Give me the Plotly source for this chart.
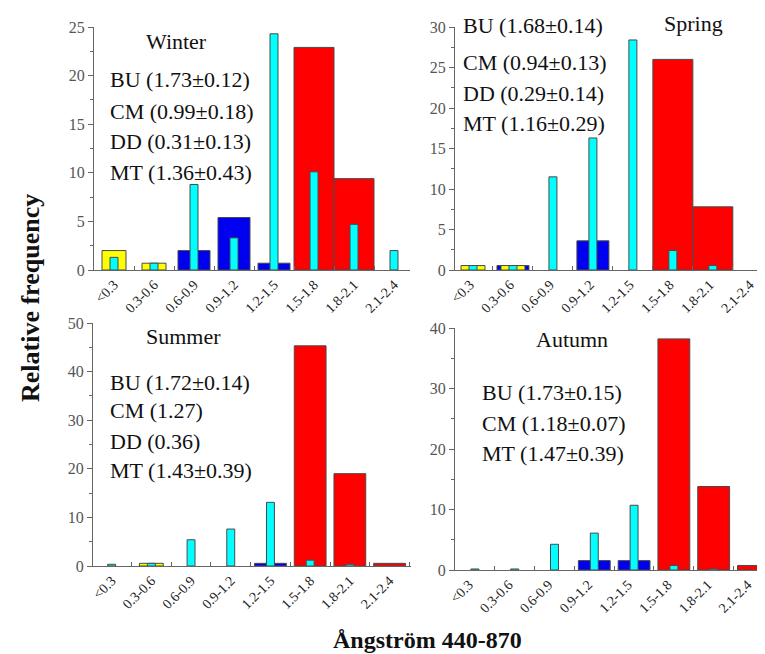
import plotly.graph_objects as go

# page body has an 8px margin: figure is drawn 8px in from the window's top-left
OFF = 8
W, H = 765 - OFF, 654 - OFF

categories = ["<0.3", "0.3-0.6", "0.6-0.9", "0.9-1.2", "1.2-1.5", "1.5-1.8", "1.8-2.1", "2.1-2.4"]
tick_text = [c.replace("<", "&lt;") for c in categories]

# Winter
winter_BU = [None, None, None, None, None, 22.9, 9.4, None]
winter_CM = [None, None, 2.0, 5.4, 0.7, None, None, None]
winter_DD = [2.0, 0.7, None, None, None, None, None, None]
winter_MT = [1.3, 0.7, 8.8, 3.3, 24.3, 10.1, 4.7, 2.0]
# Spring
spring_BU = [None, None, None, None, None, 26.0, 7.8, None]
spring_CM = [None, 0.55, None, 3.6, None, None, None, None]
spring_DD = [0.55, 0.55, None, None, None, None, None, None]
spring_MT = [0.55, 0.55, 11.5, 16.3, 28.4, 2.4, 0.55, None]
# Summer
summer_BU = [None, None, None, None, None, 45.3, 19.0, 0.55]
summer_CM = [None, None, None, None, 0.55, None, None, None]
summer_DD = [None, 0.55, None, None, None, None, None, None]
summer_MT = [0.35, 0.55, 5.4, 7.6, 13.1, 1.2, 0.35, None]
# Autumn
autumn_BU = [None, None, None, None, None, 38.2, 13.8, 0.75]
autumn_CM = [None, None, None, 1.55, 1.55, None, None, None]
autumn_MT = [0.17, 0.17, 4.25, 6.1, 10.7, 0.75, 0.17, None]

season_titles = ["Winter", "Spring", "Summer", "Autumn"]
winter_text = ["BU (1.73±0.12)", "CM (0.99±0.18)", "DD (0.31±0.13)", "MT (1.36±0.43)"]
spring_text = ["BU (1.68±0.14)", "CM (0.94±0.13)", "DD (0.29±0.14)", "MT (1.16±0.29)"]
summer_text = ["BU (1.72±0.14)", "CM (1.27)", "DD (0.36)", "MT (1.43±0.39)"]
autumn_text = ["BU (1.73±0.15)", "CM (1.18±0.07)", "MT (1.47±0.39)"]

COL = {"BU": "#FF0000", "CM": "#0000F0", "DD": "#FFFF00", "MT": "#00FFFF"}
OUT = "#4a4a4a"
SERIF = "Liberation Serif, Times New Roman, serif"


def px(x):
    return (x - OFF) / W


def py(y):
    return 1 - (y - OFF) / H


fig = go.Figure()

panels = [
    ("", [("BU", winter_BU, 1.0), ("CM", winter_CM, 0.8), ("DD", winter_DD, 0.6), ("MT", winter_MT, 0.2)],
     (94, 410), (27, 270), [-0.5, 7.4], [0, 25], 5, 2.5, 0),
    ("2", [("BU", spring_BU, 1.0), ("CM", spring_CM, 0.8), ("DD", spring_DD, 0.6), ("MT", spring_MT, 0.2)],
     (455, 762), (27, 270), [-0.45, 7.23], [0, 30], 5, 2.5, -3),
    ("3", [("BU", summer_BU, 0.8), ("CM", summer_CM, 0.8), ("DD", summer_DD, 0.6), ("MT", summer_MT, 0.2)],
     (93, 411), (323, 566), [-0.47, 7.54], [0, 50], 10, 5, 0),
    ("4", [("BU", autumn_BU, 0.8), ("CM", autumn_CM, 0.8), ("MT", autumn_MT, 0.2)],
     (455, 765), (328, 570), [-0.5, 7.29], [0, 40], 10, 5, -6),
]

layout_axes = {}
for suf, series, (x0, x1), (yt, yb), xr, yr, dt, mn, shift in panels:
    for name, vals, wd in series:
        fig.add_trace(go.Bar(
            x=categories, y=vals, width=wd, name=name,
            marker=dict(color=COL[name], line=dict(color=OUT, width=1)),
            xaxis="x" + suf, yaxis="y" + suf, showlegend=False,
        ))
    layout_axes["xaxis" + suf] = dict(
        domain=[max(0, px(x0)), min(1, px(x1))], anchor="y" + suf, type="category",
        categoryorder="array", categoryarray=categories,
        tickvals=categories, ticktext=tick_text, tickangle=-45,
        range=xr, showline=True, linecolor="#666", linewidth=1,
        ticks="inside", tickson="boundaries", ticklen=4, tickcolor="#666",
        showgrid=False, zeroline=False, automargin=False, ticklabelshift=shift,
        tickfont=dict(family=SERIF, size=14, color="#222"),
    )
    layout_axes["yaxis" + suf] = dict(
        domain=[py(yb), py(yt)], anchor="x" + suf, range=yr, dtick=dt,
        showline=True, linecolor="#666", linewidth=1, ticks="outside",
        ticklen=5, tickcolor="#666", showgrid=False, zeroline=False, automargin=False,
        minor=dict(ticks="outside", dtick=mn, ticklen=3, tickcolor="#666"),
        tickfont=dict(family=SERIF, size=16, color="#555"),
    )

annotations = []


def add_text(x, y, text, size=22, bold=False, xanchor="left", angle=0):
    annotations.append(dict(
        x=px(x), y=py(y), xref="paper", yref="paper", text=("<b>%s</b>" % text) if bold else text,
        showarrow=False, xanchor=xanchor, yanchor="middle", textangle=angle,
        font=dict(family=SERIF, size=size, color="#111"),
    ))


add_text(176, 41, season_titles[0], xanchor="center")
add_text(693, 23, season_titles[1], xanchor="center")
add_text(183, 336, season_titles[2], xanchor="center")
add_text(572, 339, season_titles[3], xanchor="center")

for t, y in zip(winter_text, [80, 111, 142, 172]):
    add_text(108, y, t)
for t, y in zip(spring_text, [26, 63, 94, 123]):
    add_text(461, y, t)
for t, y in zip(summer_text, [382, 410, 441, 471]):
    add_text(108, y, t)
for t, y in zip(autumn_text, [392, 423, 453]):
    add_text(480, y, t)

add_text(30, 298, "Relative frequency", size=26, bold=True, xanchor="center", angle=-90)
add_text(427, 640, "Ångström 440-870", size=24, bold=True, xanchor="center")

fig.update_layout(
    width=W, height=H, margin=dict(l=0, r=0, t=0, b=0, autoexpand=False),
    paper_bgcolor="white", plot_bgcolor="white", barmode="overlay",
    annotations=annotations, **layout_axes,
)

fig.write_html("out.html")
